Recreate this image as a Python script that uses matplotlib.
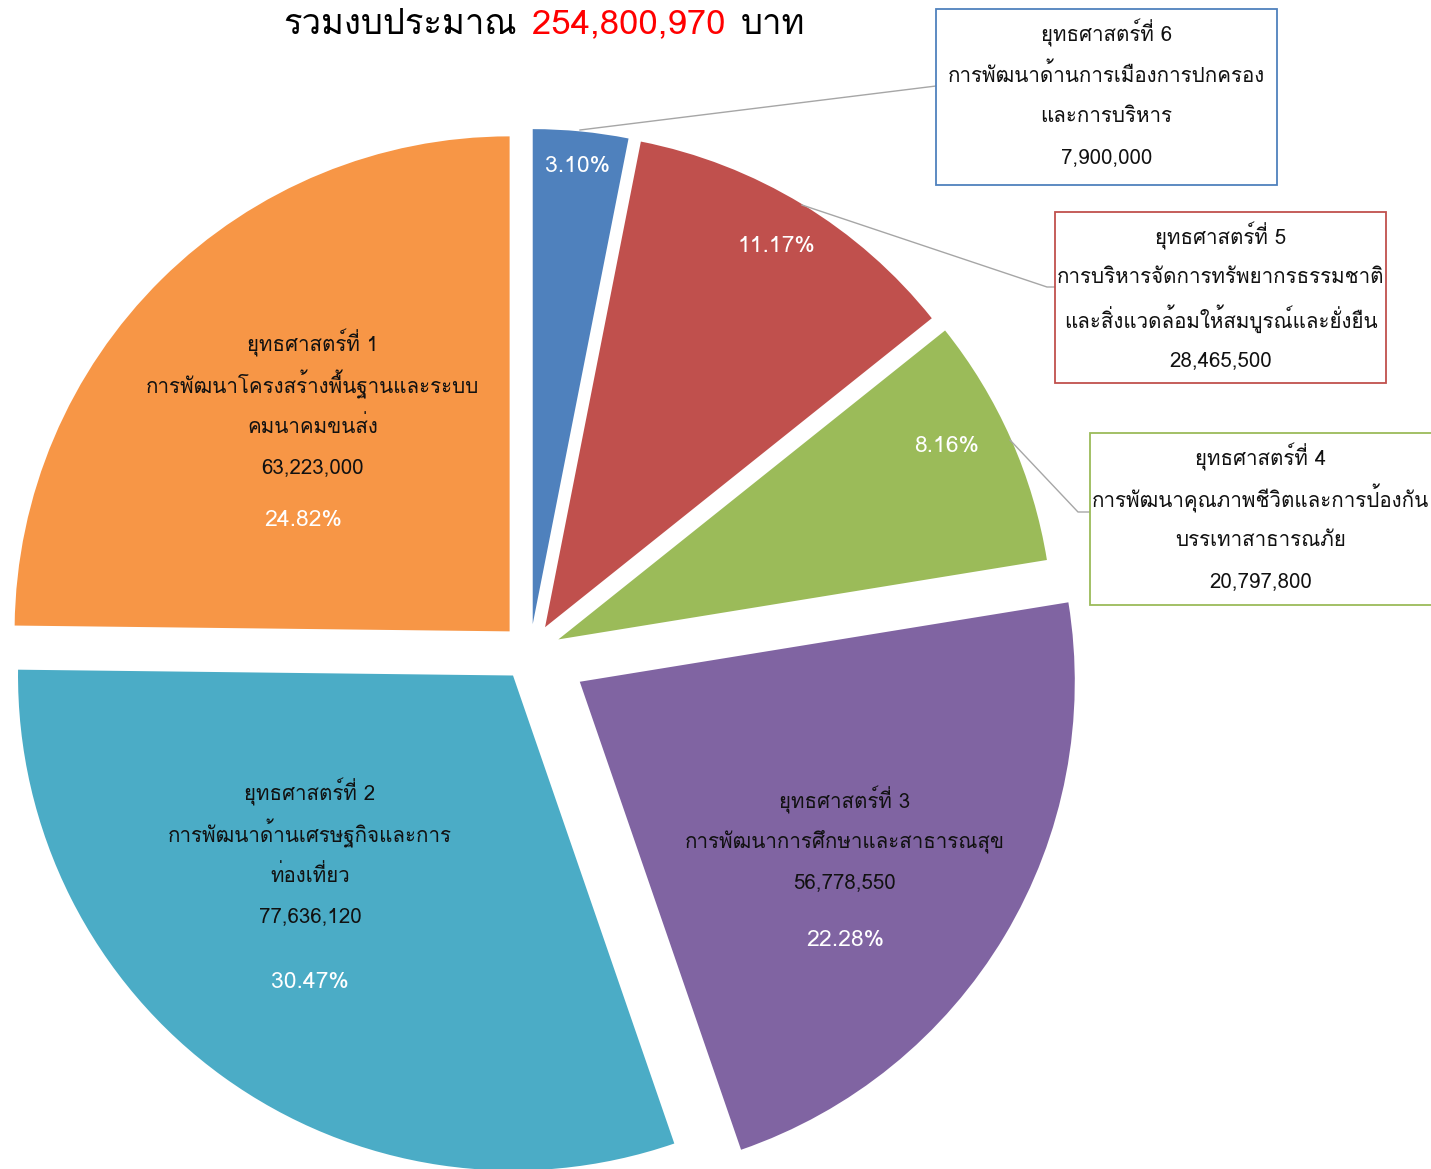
"""
Budget split by strategy: exploded pie with Thai labels, drawn on an
axes laid out in pixel units so positions can be read off the reference.
"""

import matplotlib

matplotlib.use("Agg")
import matplotlib.pyplot as plt
from matplotlib import font_manager
from matplotlib.ft2font import FT2Font
from matplotlib.offsetbox import AnnotationBbox, HPacker, TextArea
from matplotlib.patches import Rectangle

# slices in clockwise order from 12 o'clock
names = ["ยุทธศาสตร์ที่ 6", "ยุทธศาสตร์ที่ 5", "ยุทธศาสตร์ที่ 4",
         "ยุทธศาสตร์ที่ 3", "ยุทธศาสตร์ที่ 2", "ยุทธศาสตร์ที่ 1"]
descriptions = [
    ["การพัฒนาด้านการเมืองการปกครอง", "และการบริหาร"],
    ["การบริหารจัดการทรัพยากรธรรมชาติ", "และสิ่งแวดล้อมให้สมบูรณ์และยั่งยืน"],
    ["การพัฒนาคุณภาพชีวิตและการป้องกัน", "บรรเทาสาธารณภัย"],
    ["การพัฒนาการศึกษาและสาธารณสุข"],
    ["การพัฒนาด้านเศรษฐกิจและการ", "ท่องเที่ยว"],
    ["การพัฒนาโครงสร้างพื้นฐานและระบบ", "คมนาคมขนส่ง"],
]
budgets = [7900000, 28465500, 20797800, 56778550, 77636120, 63223000]
pct_labels = ["3.10%", "11.17%", "8.16%", "22.28%", "30.47%", "24.82%"]
colors = ["#4F81BD", "#C0504D", "#9BBB59", "#8064A2", "#4BACC6", "#F79646"]

W, H = 1431, 1169


def thai_family():
    # first installed family that actually has Thai glyphs
    for f in font_manager.fontManager.ttflist:
        try:
            if FT2Font(f.fname).get_char_index(ord("ก")):
                return f.name
        except Exception:
            continue
    return "DejaVu Sans"


FONT = [thai_family(), "DejaVu Sans"]
plt.rcParams["font.family"] = FONT

fig = plt.figure(figsize=(W / 100, H / 100), dpi=100)
ax = fig.add_axes([0, 0, 1, 1])

# y axis runs downward (pixel rows), so counterclock=True from -90 reads
# clockwise from the top on screen
ax.pie(budgets, colors=colors, startangle=-90, counterclock=True,
       radius=495, center=(530, 652), explode=[28, 29, 31, 58, 29, 29],
       wedgeprops=dict(linewidth=0))
ax.set_xlim(0, W)
ax.set_ylim(H, 0)
ax.set_aspect("equal")
ax.axis("off")

total = sum(budgets)
text_size = 14.8
pct_size = 16.5
line_gap = 41.5
ink = "#111111"

# title, with the total in red
kw = dict(fontsize=25, family=FONT)
parts = [TextArea("รวมงบประมาณ", textprops=dict(color="black", **kw)),
         TextArea(f"{total:,}", textprops=dict(color="#FF0000", **kw)),
         TextArea("บาท", textprops=dict(color="black", **kw))]
title = HPacker(children=parts, align="baseline", pad=0, sep=11)
ax.add_artist(AnnotationBbox(title, (544, 25), xycoords="data",
                             frameon=False, box_alignment=(0.5, 0.5)))


def text_block(lines, x, y0, **kwargs):
    for i, line in enumerate(lines):
        ax.text(x, y0 + i * line_gap, line, ha="center", va="center",
                fontsize=text_size, **kwargs)


# labels inside the big slices: (index, x, first line y, percent y)
inside = [(5, 313, 343, 520), (4, 310, 792, 982), (3, 845, 800, 940)]
for i, x, y0, yp in inside:
    lines = [names[i]] + descriptions[i] + [f"{budgets[i]:,}"]
    text_block(lines, x, y0, color=ink)
    ax.text(x - 10 if i == 5 else x, yp, pct_labels[i], ha="center",
            va="center", fontsize=pct_size, color="white")

# percent only for the small slices
for i, (x, y) in zip([0, 1, 2], [(578, 167), (776, 247), (947, 446)]):
    ax.text(x, y, pct_labels[i], ha="center", va="center", fontsize=pct_size,
            color="white")

# callout boxes: (index, left, top, right, bottom, leader points)
callouts = [
    (0, 936, 9, 1277, 185, [(580, 130), (936, 86)]),
    (1, 1055, 212, 1386, 383, [(802, 205), (1047, 287), (1055, 287)]),
    (2, 1090, 433, 1440, 605, [(1010, 440), (1078, 512), (1090, 512)]),
]
for i, x0, y0, x1, y1, leader in callouts:
    ax.add_patch(Rectangle((x0, y0), x1 - x0, y1 - y0, facecolor="white",
                           edgecolor=colors[i], linewidth=1.3, zorder=3))
    xs, ys = zip(*leader)
    ax.plot(xs, ys, color="#A6A6A6", linewidth=1, zorder=2)
    lines = [names[i]] + descriptions[i] + [f"{budgets[i]:,}"]
    cx = (x0 + min(x1, W)) / 2
    for k, line in enumerate(lines):
        ax.text(cx, y0 + 24 + k * line_gap, line, ha="center", va="center",
                fontsize=text_size, color=ink, zorder=4)

fig.savefig("out.png", dpi=100)
